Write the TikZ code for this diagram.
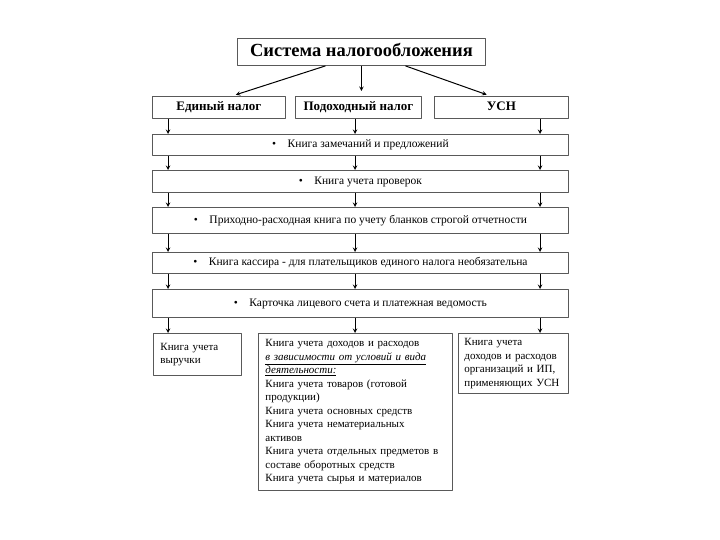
\documentclass[tikz,border=0pt]{standalone}
\usepackage{fontspec}
\setmainfont{Liberation Serif}
\begin{document}
\begin{tikzpicture}[x=1pt, y=-1pt, line join=round, >=stealth]
	\tikzset{box/.style={draw=black!65, line width=0.9pt, anchor=north west, inner sep=0pt},
		linebox/.style={box, text height=8.5pt, text depth=2.5pt},
		taxbox/.style={linebox, minimum height=22pt, font=\fontsize{13}{15}\selectfont\bfseries},
		rowbox/.style={linebox, minimum width=416pt, font=\fontsize{11.5}{13}\selectfont},
		bookbox/.style={box, align=left, inner xsep=7pt, font=\fontsize{11}{13.5}\selectfont},
		arr/.style={->, line width=1pt}}
	\useasboundingbox (0,0) rectangle (720,540);
	\node[box, minimum width=248pt, minimum height=27pt, text height=13pt, text depth=4pt, font=\fontsize{18.5}{21}\selectfont\bfseries] (sys) at (237,38) {Система налогообложения};
	\node[taxbox, minimum width=133pt] (edin) at (152,96) {Единый налог};
	\node[taxbox, minimum width=126pt] (podoh) at (295,96) {Подоходный налог};
	\node[taxbox, minimum width=134pt] (usn) at (434,96) {УСН};
	\node[rowbox, minimum height=21pt] (r1) at (152,134) {\textbullet\quad Книга замечаний и предложений};
	\node[rowbox, minimum height=22pt] (r2) at (152,170) {\textbullet\quad Книга учета проверок};
	\node[rowbox, minimum height=26pt] (r3) at (152,207) {\textbullet\quad Приходно-расходная книга по учету бланков строгой отчетности};
	\node[rowbox, minimum height=21pt] (r4) at (152,252) {\textbullet\quad Книга кассира - для плательщиков единого налога необязательна};
	\node[rowbox, minimum height=28pt] (r5) at (152,289) {\textbullet\quad Карточка лицевого счета и платежная ведомость};
	\node[bookbox, text width=74pt, minimum height=42pt] (vyr) at (153,333) {Книга учета\\выручки};
	\node[bookbox, text width=180pt, minimum height=157pt] (dohod) at (258,333) {Книга учета доходов и расходов\\
		\underline{\textit{в зависимости от условий и вида}}\\
		\underline{\textit{деятельности:}}\\
		Книга учета товаров (готовой\\продукции)\\
		Книга учета основных средств\\
		Книга учета нематериальных\\активов\\
		Книга учета отдельных предметов в\\составе оборотных средств\\
		Книга учета сырья и материалов};
	\node[bookbox, inner xsep=6pt, text width=98pt, minimum height=60pt] (usnbook) at (458,333) {Книга учета\\доходов и расходов\\организаций и ИП,\\применяющих УСН};
	\coordinate (cA) at (168,0);
	\coordinate (cB) at (355,0);
	\coordinate (cC) at (540,0);
	\draw[arr, shorten >=4pt] ([xshift=-36pt]sys.south) -- ([xshift=13pt]edin.north);
	\draw[arr, shorten >=5pt] (sys.south) -- (sys.south |- podoh.north);
	\draw[arr, shorten >=4pt] ([xshift=44pt]sys.south) -- ([xshift=-11pt]usn.north);
	\foreach \c/\u in {cA/edin, cB/podoh, cC/usn}
		\draw[arr] (\u.south -| \c) -- (r1.north -| \c);
	\foreach \u/\l in {r1/r2, r2/r3, r3/r4, r4/r5}
		\foreach \c in {cA, cB, cC}
			\draw[arr] (\u.south -| \c) -- (\l.north -| \c);
	\foreach \c/\l in {cA/vyr, cB/dohod, cC/usnbook}
		\draw[arr] (r5.south -| \c) -- (\l.north -| \c);
\end{tikzpicture}
\end{document}
